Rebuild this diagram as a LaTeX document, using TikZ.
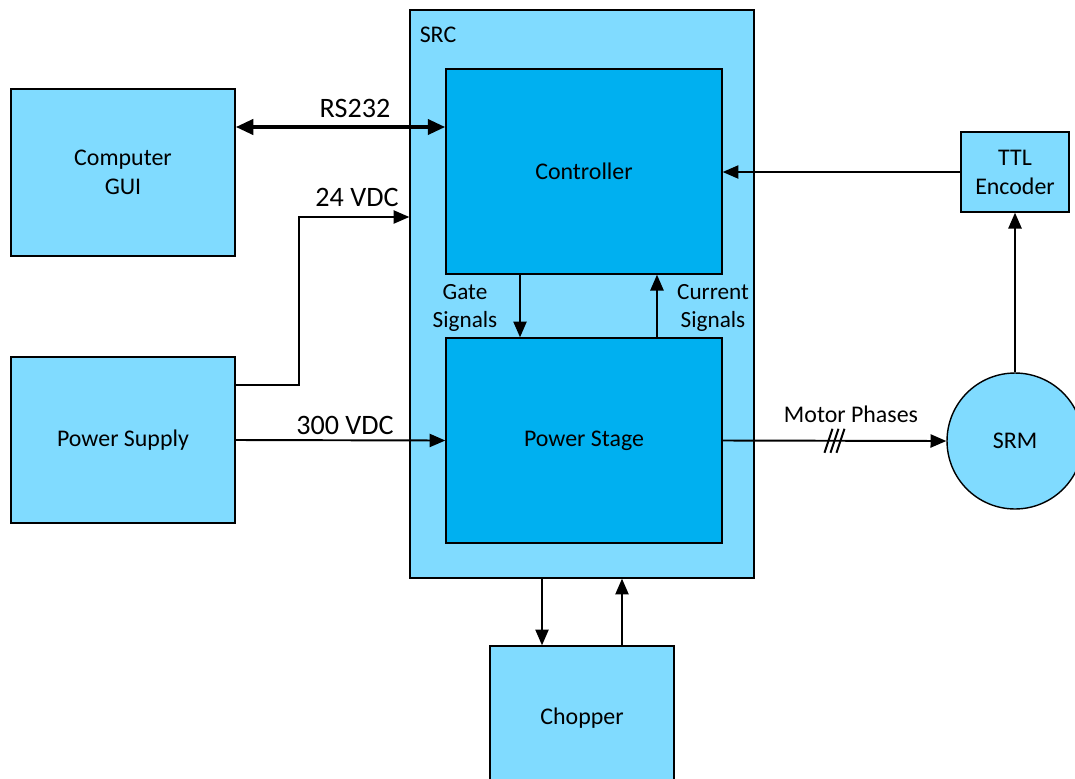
\documentclass[tikz,border=0pt]{standalone}
\usepackage{fontspec}
\setmainfont{Carlito}
\usepackage{tikz}
\usetikzlibrary{arrows.meta,calc}
\definecolor{srcblue}{HTML}{80DBFF}
\definecolor{coreblue}{HTML}{00B0F0}

\begin{document}
\begin{tikzpicture}[
    x=0.02cm, y=-0.02cm,
    >={Triangle[length=9pt,width=7.5pt]},
    block/.style={draw=black, line width=0.8pt, fill=srcblue, align=center,
        font=\fontsize{13.6}{16.5}\selectfont, inner sep=0pt},
    core/.style={block, fill=coreblue},
    sig/.style={line width=1.1pt},
    lbl/.style={font=\fontsize{16}{19}\selectfont, inner sep=0pt},
    small/.style={font=\fontsize{13.2}{16}\selectfont, align=center, inner sep=0pt}
]
\useasboundingbox (0,0) rectangle (1075,778);

% Blocs
\node[block, minimum width=6.88cm, minimum height=11.36cm] (src) at (582,294) {};
\node[small, font=\fontsize{13.6}{16}\selectfont] (srclbl) at (438,35) {SRC};
\node[core, minimum width=5.52cm, minimum height=4.10cm] (ctrl) at (584,171.5) {Controller};
\node[core, minimum width=5.52cm, minimum height=4.10cm] (pstage) at (584,440.5) {Power Stage};
\node[block, minimum width=4.48cm, minimum height=3.34cm] (gui) at (123,172.5) {Computer\\GUI};
\node[block, minimum width=4.48cm, minimum height=3.32cm] (psu) at (123,440) {Power Supply};
\node[block, minimum width=3.68cm, minimum height=2.88cm] (chop) at (582,718) {Chopper};
\node[block, minimum width=2.16cm, minimum height=1.60cm] (ttl) at (1015,172) {TTL\\Encoder};
\node[block, circle, minimum size=2.72cm] (srm) at (1015,441) {SRM};

% RS232
\coordinate (rs) at (0,127);
\draw[
    {Triangle[length=10pt,width=8.5pt]}-{Triangle[length=10pt,width=8.5pt]},
    line width=2.3pt
] (gui.east |- rs) -- (ctrl.west |- rs);
\node[lbl] (rslbl) at (355,108) {RS232};

% 24 VDC
\coordinate (k24) at (299,217);
\draw[
    ->,
    sig
] ([yshift=1.1cm]psu.east) -| (k24) -- (src.west |- k24);
\node[lbl] (v24lbl) at (357,197) {24 VDC};

% 300 VDC
\draw[->, sig] (psu.east) -- (pstage.west);
\node[lbl] (v300lbl) at (345,425) {300 VDC};

% Encoder
\draw[->, sig] (ttl.west) -- (ctrl.east |- ttl.west);
\draw[->, sig] (srm.north) -- (ttl.south);

% Fases del motor
\draw[->, sig] (pstage.east) -- (srm.west) coordinate[pos=0.5] (mp);
\foreach \dx in {-6,0,6}
    \draw[sig] ([shift={(\dx-4,12)}]mp) -- ([shift={(\dx+4,-12)}]mp);
\node[small, font=\fontsize{13.6}{16}\selectfont] (mplbl) at (851,414) {Motor Phases};

% Senyals interns
\draw[->, sig] ([xshift=-1.28cm]ctrl.south) -- ([xshift=-1.28cm]pstage.north);
\draw[->, sig] ([xshift=1.46cm]pstage.north) -- ([xshift=1.46cm]ctrl.south);
\node[small] (gatelbl) at (465,308) {Gate\\Signals};
\node[small] (curlbl) at (713,308) {Current\\Signals};

% Chopper
\draw[->, sig] ([xshift=-0.8cm]src.south) -- ([xshift=-0.8cm]chop.north);
\draw[->, sig] ([xshift=0.8cm]chop.north) -- ([xshift=0.8cm]src.south);

\end{tikzpicture}
\end{document}
